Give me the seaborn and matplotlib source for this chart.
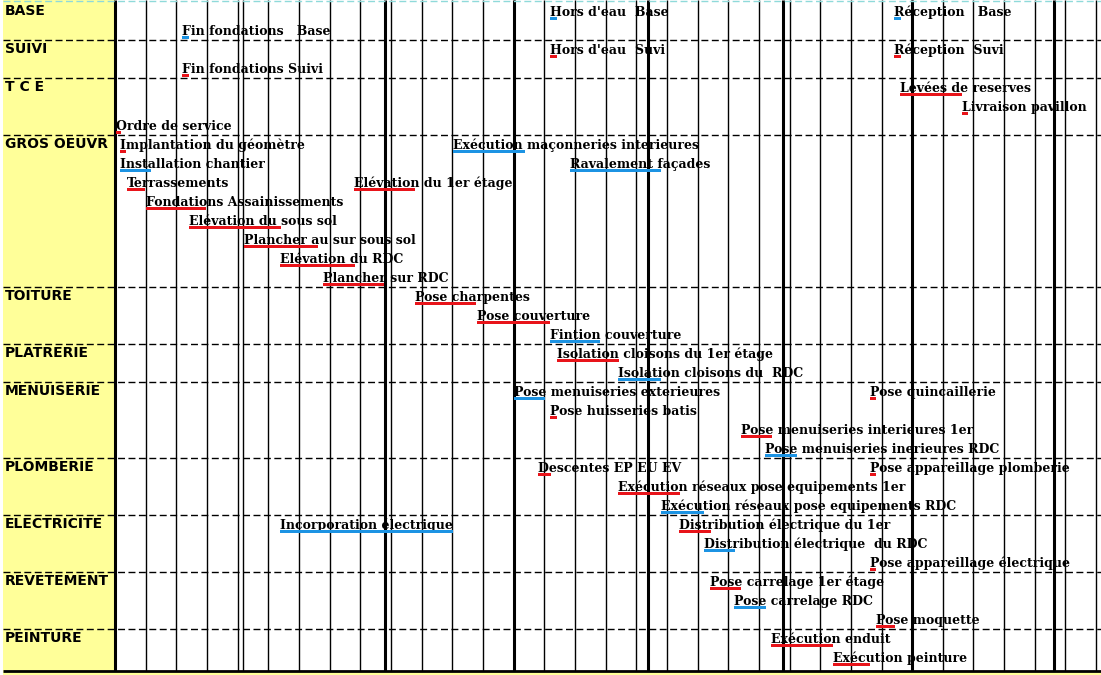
import numpy as np
import pandas as pd
import matplotlib
matplotlib.use("Agg")
import matplotlib.pyplot as plt
import seaborn as sns

# ----------------------------------------------------------------------------------------------
# 1. Data (days counted from the "Ordre de service")
# ----------------------------------------------------------------------------------------------
groups = ["BASE", "SUIVI", "T C E", "GROS OEUVR", "TOITURE", "PLATRERIE",
          "MENUISERIE", "PLOMBERIE", "ELECTRICITE", "REVETEMENT", "PEINTURE"]
group_rows = [0, 2, 4, 7, 15, 18, 20, 24, 27, 30, 33]

tasks = [
    "Hors d'eau  Base", "Réception   Base", "Fin fondations   Base",
    "Hors d'eau  Suvi", "Réception  Suvi", "Fin fondations Suivi",
    "Levées de reserves", "Livraison pavillon", "Ordre de service",
    "Implantation du géomètre", "Exécution maçonneries interieures",
    "Installation chantier", "Ravalement façades",
    "Terrassements", "Elévation du 1er étage",
    "Fondations Assainissements", "Elévation du sous sol",
    "Plancher au sur sous sol", "Elévation du RDC", "Plancher sur RDC",
    "Pose charpentes", "Pose couverture", "Fintion couverture",
    "Isolation cloisons du 1er étage", "Isolation cloisons du  RDC",
    "Pose menuiseries exterieures", "Pose quincaillerie",
    "Pose huisseries batis", "Pose menuiseries interieures 1er",
    "Pose menuiseries inerieures RDC",
    "Descentes EP EU EV", "Pose appareillage plomberie",
    "Exécution réseaux pose equipements 1er",
    "Exécution réseaux pose equipements RDC",
    "Incorporation électrique", "Distribution électrique du 1er",
    "Distribution électrique  du RDC", "Pose appareillage électrique",
    "Pose carrelage 1er étage", "Pose carrelage RDC", "Pose moquette",
    "Exécution enduit", "Exécution peinture",
]
task_rows = [0, 0, 1,
             2, 2, 3,
             4, 5, 6,
             7, 7,
             8, 8,
             9, 9,
             10, 11,
             12, 13, 14,
             15, 16, 17,
             18, 19,
             20, 20,
             21, 22,
             23,
             24, 24,
             25,
             26,
             27, 27,
             28, 29,
             30, 31, 32,
             33, 34]
starts = [99.4, 177.9, 15.4,
          99.4, 177.9, 15.4,
          179.2, 193.4, 0.15,
          1.2, 77.1,
          1.2, 103.9,
          2.7, 54.6,
          7.0, 16.8,
          29.4, 37.7, 47.6,
          68.5, 82.6, 99.3,
          100.8, 114.8,
          91.1, 172.3,
          99.4, 142.9,
          148.4,
          96.6, 172.3,
          114.8,
          124.7,
          37.7, 128.8,
          134.5, 172.3,
          135.8, 141.3, 173.7,
          149.8, 163.9]
durations = [1.5, 1.5, 1.5,
             1.5, 1.5, 1.5,
             14.1, 1.4, 1.2,
             1.4, 16.6,
             7.1, 20.8,
             4.2, 14.0,
             13.8, 21.0,
             16.9, 17.1, 13.8,
             14.0, 16.8, 11.5,
             14.2, 9.8,
             7.0, 1.5,
             1.5, 7.2,
             7.3,
             2.9, 1.5,
             14.2,
             9.8,
             39.4, 7.3,
             7.1, 1.4,
             7.1, 7.3, 4.3,
             14.1, 8.4]
series = ["Base", "Base", "Base",
          "Suivi", "Suivi", "Suivi",
          "Suivi", "Suivi", "Suivi",
          "Suivi", "Base",
          "Base", "Base",
          "Suivi", "Suivi",
          "Suivi", "Suivi",
          "Suivi", "Suivi", "Suivi",
          "Suivi", "Suivi", "Base",
          "Suivi", "Base",
          "Base", "Suivi",
          "Suivi", "Suivi",
          "Base",
          "Suivi", "Suivi",
          "Suivi",
          "Base",
          "Base", "Suivi",
          "Base", "Suivi",
          "Suivi", "Base", "Suivi",
          "Suivi", "Suivi"]

week_days = np.arange(7, 225, 7)
month_days = [61.6, 91.0, 121.8, 152.6, 182.0, 214.4]
extra_days = [29.2]

df = pd.DataFrame({"task": tasks, "row": task_rows, "start": starts,
                   "duration": durations, "series": series})

# ----------------------------------------------------------------------------------------------
# 2. Layout
# ----------------------------------------------------------------------------------------------
sns.set_theme(style="white")
plt.rcParams["font.family"] = ["DejaVu Serif"]

palette = {"Base": "#1c93e3", "Suivi": "#e8141a"}
yellow = "#ffff99"

px_day = 30.66 / 7   # pixels per day
x0 = 115             # pixel of day 0
row_px = 19.0        # pixels per row
y0 = 2               # pixel of row 0

fig = plt.figure(figsize=(11.01, 6.75), dpi=100)
ax = fig.add_axes([0, 0, 1, 1])
ax.set_xlim((0 - x0) / px_day, (1101 - x0) / px_day)
ax.set_ylim((675 - y0) / row_px, (0 - y0) / row_px)
ax.axis("off")

x_left = (3 - x0) / px_day
x_right = (1101 - x0) / px_day
y_top = (0 - y0) / row_px
y_bottom = (670.5 - y0) / row_px
y_end = (675 - y0) / row_px

# yellow header column and bottom strip
ax.fill_betweenx([y_top, y_bottom], x_left, 0, color=yellow, lw=0, zorder=0)
ax.fill_between([x_left, x_right], y_bottom, y_end, color=yellow, lw=0, zorder=0)

# grid
ax.vlines(week_days, y_top, y_bottom, colors="black", lw=1.0, zorder=1)
ax.vlines(extra_days, y_top, y_bottom, colors="black", lw=1.0, zorder=1)
ax.vlines(month_days, y_top, y_bottom, colors="black", lw=2.2, zorder=1)
ax.vlines([0], y_top, y_bottom, colors="black", lw=2.2, zorder=1)
ax.hlines(group_rows[1:], x_left, x_right, colors="black", lw=1.0,
          linestyles=(0, (5, 2.5)), zorder=1)
ax.hlines([-0.05], x_left, x_right, colors="#8fdada", lw=1.0,
          linestyles=(0, (5, 2.5)), zorder=1)
ax.hlines([y_bottom], x_left, x_right, colors="black", lw=2.0, zorder=1)

# bars
ax.barh(df["row"] + 0.88, df["duration"], left=df["start"], height=0.18,
        color=df["series"].map(palette), lw=0, zorder=3)

# task labels
for _, r in df.iterrows():
    ax.text(r["start"], r["row"] + 0.73, r["task"], fontsize=9,
            fontweight="bold", family="DejaVu Serif", va="baseline",
            ha="left", color="black", zorder=2)

# group labels
for g, gr in zip(groups, group_rows):
    ax.text(x_left + 0.4, gr + 0.08, g, fontsize=10, fontweight="bold",
            family="DejaVu Sans", va="top", ha="left", color="black", zorder=2)

plt.savefig("out.png", dpi=100)
plt.close()
